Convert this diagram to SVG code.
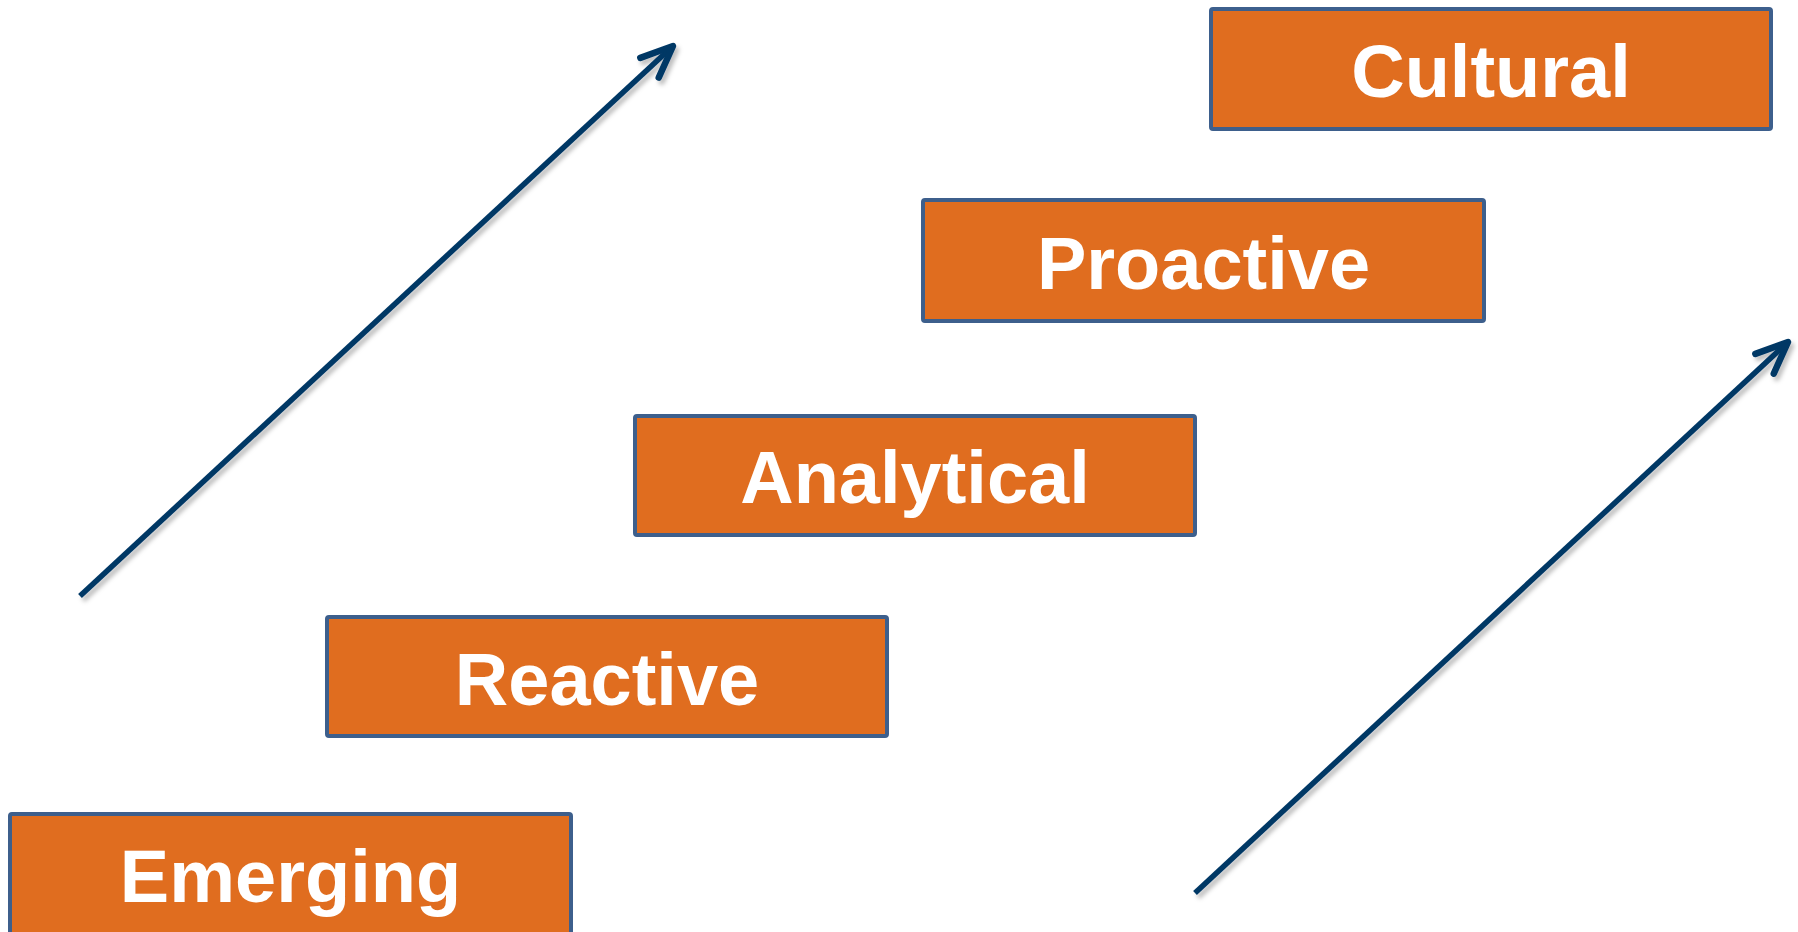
<svg xmlns="http://www.w3.org/2000/svg" width="1798" height="932" viewBox="0 0 1798 932">
  <style>
    .box { fill: #E06D1F; stroke: #3D5F8C; stroke-width: 4; }
    .label { font-family: "Liberation Sans", Arial, sans-serif; font-weight: bold; font-size: 74px; fill: #FFFFFF; text-anchor: middle; }
    .arrow { fill: none; stroke: #003865; stroke-width: 5.5; stroke-linecap: butt; }
    .head { fill: none; stroke: #003865; stroke-width: 6.5; stroke-linecap: round; stroke-linejoin: round; }
  </style>
  <defs>
    <filter id="shadow" x="-10%" y="-10%" width="130%" height="130%">
      <feDropShadow dx="3" dy="4" stdDeviation="2" flood-color="#000000" flood-opacity="0.25"/>
    </filter>
    <marker id="openArrow" markerUnits="userSpaceOnUse" markerWidth="60" markerHeight="60" refX="0" refY="0" viewBox="-40 -30 60 60" orient="auto" overflow="visible">
      <path class="head" d="M-32,-13.5 L0,0 L-32,13.5"/>
    </marker>
  </defs>
  <rect width="1798" height="932" fill="#FFFFFF"/>

  <g id="connectors" filter="url(#shadow)">
    <path class="arrow" d="M80,596 L673,46" marker-end="url(#openArrow)"/>
    <path class="arrow" d="M1195,893 L1788,342" marker-end="url(#openArrow)"/>
  </g>

  <g id="node-cultural">
    <rect class="box" x="1211" y="9" width="560" height="120" rx="2"/>
    <text class="label" x="1491" y="97">Cultural</text>
  </g>
  <g id="node-proactive">
    <rect class="box" x="923" y="200" width="561" height="121" rx="2"/>
    <text class="label" x="1203.5" y="289">Proactive</text>
  </g>
  <g id="node-analytical">
    <rect class="box" x="635" y="416" width="560" height="119" rx="2"/>
    <text class="label" x="915" y="503">Analytical</text>
  </g>
  <g id="node-reactive">
    <rect class="box" x="327" y="617" width="560" height="119" rx="2"/>
    <text class="label" x="607" y="705">Reactive</text>
  </g>
  <g id="node-emerging">
    <rect class="box" x="10" y="814" width="561" height="122" rx="2"/>
    <text class="label" x="290.5" y="902">Emerging</text>
  </g>
</svg>
